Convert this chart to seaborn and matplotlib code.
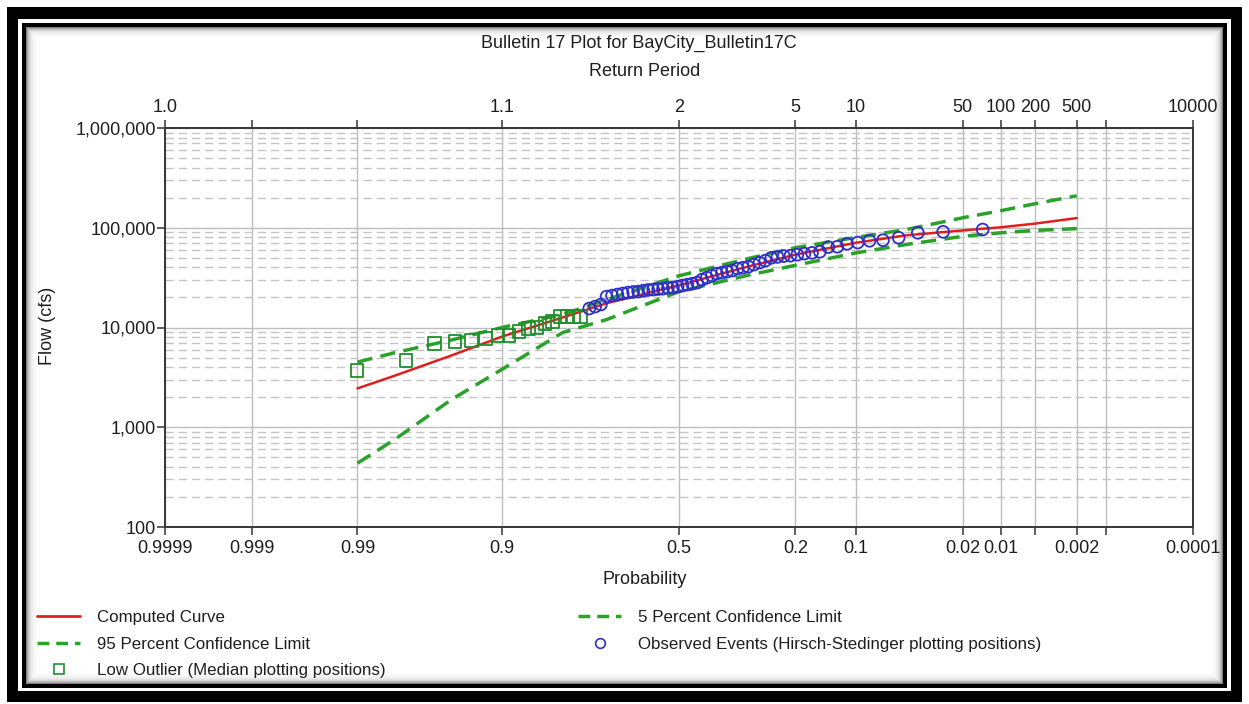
import math
import numpy as np
import matplotlib
matplotlib.use("Agg")
import matplotlib.pyplot as plt
import seaborn as sns
from matplotlib.lines import Line2D
from matplotlib.ticker import FixedLocator, NullLocator, LogLocator, FuncFormatter, NullFormatter

# ---------------------------------------------------------------- data
# exceedance probabilities at which the frequency curves are tabulated
curve_prob = [0.99, 0.98, 0.95, 0.9, 0.8, 0.7, 0.5, 0.3, 0.2, 0.1, 0.05, 0.02, 0.01, 0.005, 0.002]
computed_flow = [2450, 3300, 5250, 8100, 12600, 17500, 26500, 41700, 53700, 70800, 84000, 94000, 101000, 110000, 125000]
conf05_flow = [4500, 5600, 7500, 10000, 13500, 19000, 33000, 50000, 63000, 80000, 96000, 126000, 148000, 174000, 209000]
conf95_flow = [436, 760, 1900, 3800, 8900, 12000, 22900, 34000, 42000, 56000, 68000, 82000, 89000, 94000, 98000]

# observed annual peaks (Hirsch-Stedinger plotting positions)
obs_prob = [0.014, 0.028, 0.042, 0.056, 0.070, 0.084, 0.098, 0.112, 0.126, 0.140,
            0.154, 0.168, 0.182, 0.196, 0.210, 0.224, 0.238, 0.252, 0.266, 0.280,
            0.294, 0.308, 0.322, 0.336, 0.350, 0.364, 0.378, 0.392, 0.406, 0.420,
            0.434, 0.448, 0.462, 0.476, 0.490, 0.504, 0.518, 0.532, 0.546, 0.560,
            0.574, 0.588, 0.602, 0.616, 0.630, 0.644, 0.658, 0.672, 0.686, 0.700,
            0.714, 0.728, 0.742]
obs_flow = [96000, 91000, 89000, 79500, 75000, 74000, 71000, 69000, 64500, 64000,
            57500, 56000, 55000, 53700, 52500, 52000, 51000, 50000, 46800, 44700,
            42700, 40700, 39800, 38900, 37200, 36300, 35500, 34700, 33100, 31600,
            30200, 28200, 27500, 26900, 26300, 25700, 25100, 25000, 24500, 24300,
            24000, 23800, 23400, 22900, 22700, 22400, 21900, 21400, 20900, 20400,
            17000, 16200, 15500]

# low outliers (median plotting positions)
low_prob = [0.9901, 0.9759, 0.9616, 0.9474, 0.9332, 0.9190, 0.9048, 0.8906, 0.8764,
            0.8622, 0.8480, 0.8338, 0.8196, 0.8054, 0.7912, 0.7770, 0.7628]
low_flow = [3700, 4700, 6900, 7200, 7400, 7800, 8300, 8300, 9100, 9700, 10000,
            10900, 11400, 12900, 12900, 13000, 13000]

# axis ticks
prob_ticks = [0.9999, 0.999, 0.99, 0.9, 0.5, 0.2, 0.1, 0.02, 0.01, 0.005, 0.002, 0.001, 0.0001]
prob_labels = ["0.9999", "0.999", "0.99", "0.9", "0.5", "0.2", "0.1", "0.02", "0.01", "", "0.002", "", "0.0001"]
period_labels = ["1.0", "", "", "1.1", "2", "5", "10", "50", "100", "200", "500", "", "10000"]
flow_ticks = [100, 1000, 10000, 100000, 1000000]

legend_left = ["Computed Curve", "95 Percent Confidence Limit", "Low Outlier (Median plotting positions)"]
legend_right = ["5 Percent Confidence Limit", "Observed Events (Hirsch-Stedinger plotting positions)"]


# ---------------------------------------------------------------- normal probability scale
_A = [-3.969683028665376e+01, 2.209460984245205e+02, -2.759285104469687e+02,
      1.383577518672690e+02, -3.066479806614716e+01, 2.506628277459239e+00]
_B = [-5.447609879822406e+01, 1.615858368580409e+02, -1.556989798598866e+02,
      6.680131188771972e+01, -1.328068155288572e+01]
_C = [-7.784894002430293e-03, -3.223964580411365e-01, -2.400758277161838e+00,
      -2.549732539343734e+00, 4.374664141464968e+00, 2.938163982698783e+00]
_D = [7.784695709041462e-03, 3.224671290700398e-01, 2.445134137142996e+00,
      3.754408661907416e+00]


def probit(p):
    arr = np.asarray(p, dtype=float)
    shape = arr.shape
    p1 = np.clip(np.atleast_1d(arr).ravel(), 1e-12, 1 - 1e-12)
    z = np.empty_like(p1)
    plow = 0.02425
    lo = p1 < plow
    hi = p1 > 1 - plow
    mid = ~(lo | hi)
    if lo.any():
        q = np.sqrt(-2 * np.log(p1[lo]))
        z[lo] = ((((((_C[0] * q + _C[1]) * q + _C[2]) * q + _C[3]) * q + _C[4]) * q + _C[5]) /
                 ((((_D[0] * q + _D[1]) * q + _D[2]) * q + _D[3]) * q + 1))
    if mid.any():
        q = p1[mid] - 0.5
        r = q * q
        z[mid] = ((((((_A[0] * r + _A[1]) * r + _A[2]) * r + _A[3]) * r + _A[4]) * r + _A[5]) * q /
                  (((((_B[0] * r + _B[1]) * r + _B[2]) * r + _B[3]) * r + _B[4]) * r + 1))
    if hi.any():
        q = np.sqrt(-2 * np.log(1 - p1[hi]))
        z[hi] = -((((((_C[0] * q + _C[1]) * q + _C[2]) * q + _C[3]) * q + _C[4]) * q + _C[5]) /
                  ((((_D[0] * q + _D[1]) * q + _D[2]) * q + _D[3]) * q + 1))
    return z.reshape(shape)


_erfc = np.vectorize(math.erfc, otypes=[float])


def inv_probit(z):
    arr = np.asarray(z, dtype=float)
    return 0.5 * _erfc(-arr / math.sqrt(2.0))


# ---------------------------------------------------------------- styling
sns.set_theme(style="white")
plt.rcParams["font.family"] = ["Liberation Sans", "DejaVu Sans"]
plt.rcParams["text.color"] = "#1e1e1e"
plt.rcParams["xtick.color"] = "#333333"
plt.rcParams["ytick.color"] = "#333333"
plt.rcParams["xtick.labelcolor"] = "#1e1e1e"
plt.rcParams["ytick.labelcolor"] = "#1e1e1e"

FS = 13
LEG_FS = 12.2
RED = "#e0201e"
GREEN = "#2aa22a"
SQ_GREEN = "#1f8f2a"
BLUE = "#2e2ec8"
AXC = "#3a3a3a"
DASH = (0, (4.4, 2.4))

W, H = 1249, 704
fig = plt.figure(figsize=(W / 100, H / 100), dpi=100)


def fx(px):
    return px / W


def fy(py):
    return 1 - py / H


# double black frame with a soft inner shadow
bg = fig.add_axes([0, 0, 1, 1], zorder=-10)
frame = np.ones((H, W))
frame[7:702, 7:1242] = 0.0
frame[19:691, 18:1231] = 1.0
frame[23:688, 22:1227] = 0.0
yy, xx = np.mgrid[0:H, 0:W]
dist = np.minimum.reduce([xx - 26, 1222 - xx, yy - 27, 683 - yy])
inside = dist >= 0
frame[inside] = (1 - 0.5 * np.exp(-dist / 2.8))[inside]
bg.imshow(frame, cmap="gray", vmin=0, vmax=1, aspect="auto",
          interpolation="nearest", extent=(0, W, H, 0))
bg.set_axis_off()

# main plot area
ax = fig.add_axes([fx(165), fy(527), (1193 - 165) / W, (527 - 128) / H])
ax.set_facecolor("white")
ax.set_xscale("function", functions=(probit, inv_probit))
ax.set_yscale("log")

# frequency curves
sns.lineplot(x=curve_prob, y=conf05_flow, ax=ax, color=GREEN, linewidth=2.5,
             linestyle=DASH, sort=False, estimator=None, legend=False, zorder=3)
sns.lineplot(x=curve_prob, y=conf95_flow, ax=ax, color=GREEN, linewidth=2.5,
             linestyle=DASH, sort=False, estimator=None, legend=False, zorder=3)
sns.lineplot(x=curve_prob, y=computed_flow, ax=ax, color=RED, linewidth=1.8,
             sort=False, estimator=None, legend=False, zorder=4)

# plotted events
sns.scatterplot(x=low_prob, y=low_flow, ax=ax, marker="s", s=85, facecolor="none",
                edgecolor=SQ_GREEN, linewidth=1.3, legend=False, zorder=5)
sns.scatterplot(x=obs_prob, y=obs_flow, ax=ax, marker="o", s=72, facecolor="none",
                edgecolor=BLUE, linewidth=1.3, legend=False, zorder=6)

ax.set_xlim(0.9999, 0.0001)
ax.set_ylim(100, 1000000)
ax.set_xlabel("")
ax.set_ylabel("")

ax.xaxis.set_major_locator(FixedLocator(prob_ticks))
ax.xaxis.set_major_formatter(FuncFormatter(lambda v, pos: prob_labels[pos] if pos is not None and pos < len(prob_labels) else ""))
ax.xaxis.set_minor_locator(NullLocator())
ax.yaxis.set_major_locator(FixedLocator(flow_ticks))
ax.yaxis.set_major_formatter(FuncFormatter(lambda v, pos: f"{v:,.0f}"))
ax.yaxis.set_minor_locator(LogLocator(base=10, subs=[2, 3, 4, 5, 6, 7, 8, 9], numticks=20))
ax.yaxis.set_minor_formatter(NullFormatter())

ax.grid(True, which="major", axis="both", color="#bdbdbd", linewidth=1.0, linestyle="-", zorder=0)
ax.grid(True, which="minor", axis="y", color="#c4c4c4", linewidth=1.0, linestyle=(0, (6, 3.5)), zorder=0)
ax.set_axisbelow(True)

ax.tick_params(axis="x", which="major", direction="out", length=6, width=1.1, pad=3.5,
               labelsize=FS, bottom=True, top=False)
ax.tick_params(axis="y", which="major", direction="out", length=6, width=1.1, pad=0.5,
               labelsize=FS, left=True, right=False)
ax.tick_params(axis="y", which="minor", length=0)
for sp in ax.spines.values():
    sp.set_color(AXC)
    sp.set_linewidth(1.3)

# return-period axis along the top
ax2 = ax.twiny()
ax2.set_xscale("function", functions=(probit, inv_probit))
ax2.set_xlim(0.9999, 0.0001)
ax2.xaxis.set_major_locator(FixedLocator(prob_ticks))
ax2.xaxis.set_major_formatter(FuncFormatter(lambda v, pos: period_labels[pos] if pos is not None and pos < len(period_labels) else ""))
ax2.xaxis.set_minor_locator(NullLocator())
ax2.tick_params(axis="x", which="major", direction="out", length=6, width=1.1, pad=3,
                labelsize=FS, top=True, labeltop=True, bottom=False, labelbottom=False)
ax2.grid(False)
for sp in ax2.spines.values():
    sp.set_color(AXC)
    sp.set_linewidth(1.3)

# titles and axis names
fig.text(fx(639), fy(43), "Bulletin 17 Plot for BayCity_Bulletin17C", ha="center", va="center", fontsize=FS)
fig.text(fx(645), fy(71), "Return Period", ha="center", va="center", fontsize=FS)
fig.text(fx(645), fy(580), "Probability", ha="center", va="center", fontsize=FS)
fig.text(fx(48), fy(326), "Flow (cfs)", ha="center", va="center", rotation=90, fontsize=FS)

# legend
dash_handle = Line2D([], [], color=GREEN, linewidth=2.5, linestyle=(0, (3.4, 2.0)))
h_comp = Line2D([], [], color=RED, linewidth=2.0)
h_low = Line2D([], [], linestyle="none", marker="s", markersize=7.5, markerfacecolor="none",
               markeredgecolor=SQ_GREEN, markeredgewidth=1.2)
h_obs = Line2D([], [], linestyle="none", marker="o", markersize=7, markerfacecolor="none",
               markeredgecolor=BLUE, markeredgewidth=1.2)
common = dict(loc="upper left", frameon=False, fontsize=LEG_FS, handlelength=2.55,
              handletextpad=1.0, labelspacing=0.68, borderpad=0, borderaxespad=0)
fig.legend([h_comp, dash_handle, h_low], legend_left, bbox_to_anchor=(fx(37), fy(610)), **common)
fig.legend([dash_handle, h_obs], legend_right, bbox_to_anchor=(fx(578), fy(610)), **common)

fig.savefig("out.png", dpi=100)
